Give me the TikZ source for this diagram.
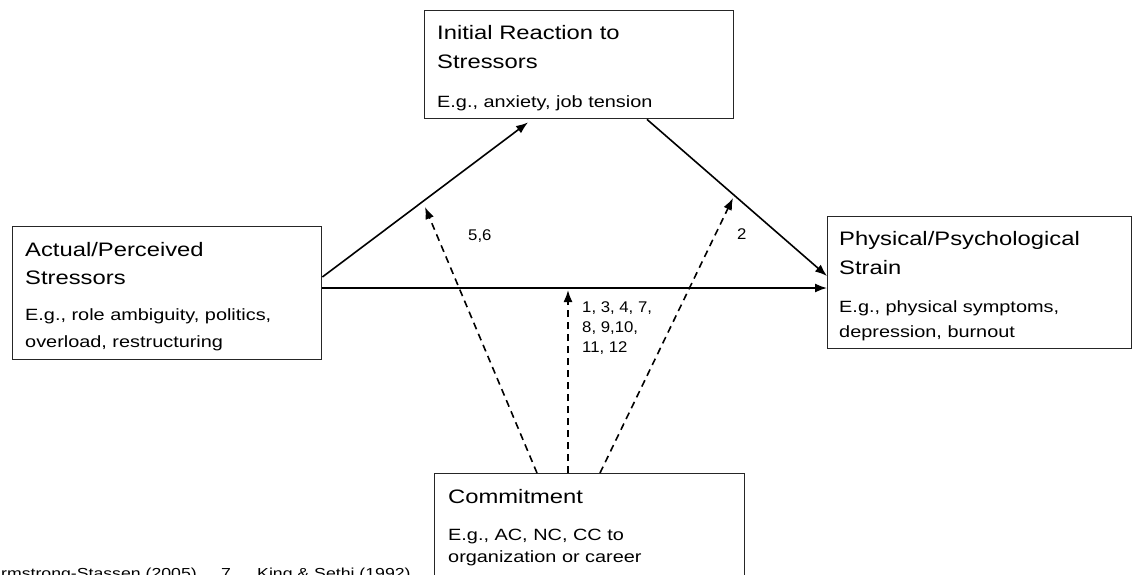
\documentclass[tikz,border=0pt]{standalone}
\usepackage{fontspec}
\setmainfont{Liberation Sans}[FakeStretch=1.22]
\newfontfamily\lblfont{Liberation Sans}[FakeStretch=1.08]
\usetikzlibrary{calc,arrows.meta}
\begin{document}
\begin{tikzpicture}[x=1pt,y=-1pt,
  box/.style={draw=black!85,line width=1.4pt,inner sep=0pt,anchor=north west},
  ttl/.style={anchor=base west,inner sep=0pt,font=\fontsize{19.5}{20}\selectfont},
  sub/.style={anchor=base west,inner sep=0pt,font=\fontsize{16.3}{17}\selectfont},
  lbl/.style={anchor=base west,inner sep=0pt,font=\lblfont\fontsize{15.5}{16}\selectfont},
  foot/.style={inner sep=0pt,font=\fontsize{14.5}{15}\selectfont},
  link/.style={line width=1.6pt,-{Latex[length=12pt,width=9pt]}},
  modline/.style={line width=1.6pt,dash pattern=on 7pt off 5pt,-{Latex[length=12pt,width=9pt]}}]
\useasboundingbox (0,0) rectangle (1133,574);
\clip (0,0) rectangle (1133,574);
% boxes
\node[box,minimum width=309pt,minimum height=108pt] (T) at (424,10) {};
\node[box,minimum width=309pt,minimum height=133pt] (L) at (12,226) {};
\node[box,minimum width=304pt,minimum height=132pt] (R) at (827,216) {};
\node[box,minimum width=310pt,minimum height=130pt] (C) at (434,473) {};
% texts
\node[ttl] (t1) at (437,39) {Initial Reaction to};
\node[ttl] (t2) at (437,68) {Stressors};
\node[sub] (t3) at (437,107) {E.g., anxiety, job tension};
\node[ttl] (l1) at (25,256) {Actual/Perceived};
\node[ttl] (l2) at (25,284) {Stressors};
\node[sub] (l3) at (25,320) {E.g., role ambiguity, politics,};
\node[sub] (l4) at (25,347) {overload, restructuring};
\node[ttl] (r1) at (839,245) {Physical/Psychological};
\node[ttl] (r2) at (839,274) {Strain};
\node[sub] (r3) at (839,312) {E.g., physical symptoms,};
\node[sub] (r4) at (839,337) {depression, burnout};
\node[ttl] (c1) at (448,503) {Commitment};
\node[sub] (c2) at (448,540) {E.g., AC, NC, CC to};
\node[sub] (c3) at (448,562) {organization or career};
% labels
\node[lbl] (n56) at (468,240) {5,6};
\node[lbl] (n2) at (737,239) {2};
\node[lbl] (na) at (582,312) {1, 3, 4, 7,};
\node[lbl] (nb) at (582,332) {8, 9,10,};
\node[lbl] (nc) at (582,352) {11, 12};
% footer
\node[foot,anchor=base east] (f1) at (197,578) {Armstrong-Stassen (2005)};
\node[foot,anchor=base west] (f2) at (221,578) {7};
\node[foot,anchor=base west] (f3) at (257,578) {King \& Sethi (1992)};
% connectors
\draw[link] ($(L.north east)+(0,51)$) -- ($(T.south west)+(104,3)$);
\draw[link] ($(T.south west)+(223,0)$) -- ($(R.north west)+(0,60)$);
\draw[link] ($(L.north east)+(0,62)$) -- ($(R.north west)+(0,72)$);
\coordinate (m1) at (425,207);
\coordinate (m2) at (568,290);
\coordinate (m3) at (733,198);
\draw[modline] ($(C.north west)+(103,0)$) -- (m1);
\draw[modline] ($(C.north west)+(134,0)$) -- (m2);
\draw[modline] ($(C.north west)+(166,0)$) -- (m3);
\end{tikzpicture}
\end{document}
